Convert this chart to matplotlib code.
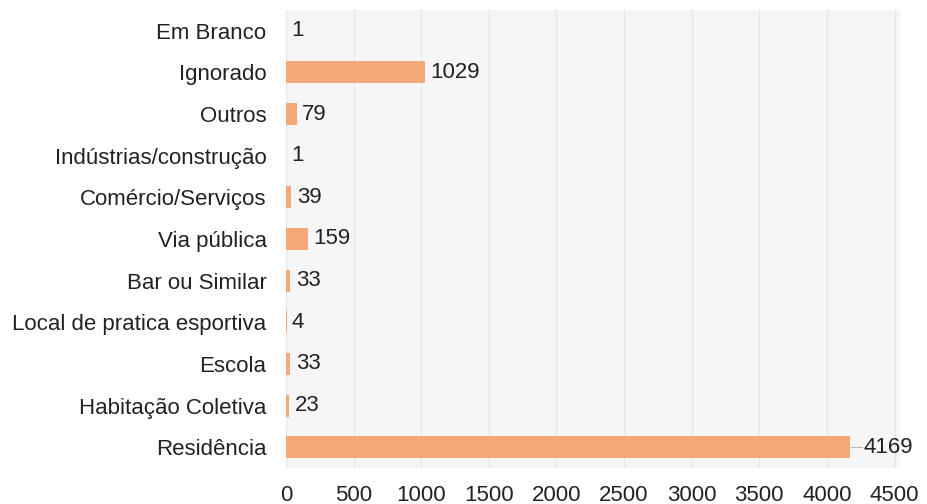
import numpy as np
import matplotlib.pyplot as plt

plt.rcParams['font.family'] = ['Liberation Sans', 'DejaVu Sans']

# dados
categorias = ['Em Branco', 'Ignorado', 'Outros', 'Indústrias/construção',
              'Comércio/Serviços', 'Via pública', 'Bar ou Similar',
              'Local de pratica esportiva', 'Escola', 'Habitação Coletiva',
              'Residência']
valores = [1, 1029, 79, 1, 39, 159, 33, 4, 33, 23, 4169]
xticks = [0, 500, 1000, 1500, 2000, 2500, 3000, 3500, 4000, 4500]

fs = 16

fig = plt.figure(figsize=(9.27, 5.04), dpi=100)
ax = fig.add_axes([286 / 927, 1 - 468 / 504, (900 - 286) / 927, (468 - 10) / 504])
ax.set_facecolor('#f6f6f6')

y = np.arange(len(categorias))
ax.barh(y, valores, height=0.53, color='#f5a878', zorder=3)

for yi, v in zip(y, valores):
    if v > 3000:
        ax.plot([v + 10, v + 90], [yi, yi], color='#bbbbbb', lw=0.8, zorder=3)
        ax.text(v + 100, yi, str(v), va='center', ha='left', fontsize=fs, color='#222222')
    else:
        ax.text(v + 40, yi, str(v), va='center', ha='left', fontsize=fs, color='#222222')

ax.set_ylim(len(categorias) - 0.5, -0.5)
ax.set_xlim(0, 4540)
ax.set_yticks(y)
ax.set_yticklabels(categorias, fontsize=fs, color='#222222')
ax.set_xticks(xticks)
ax.set_xticklabels([str(t) for t in xticks], fontsize=fs, color='#222222')
ax.tick_params(length=0)
ax.tick_params(axis='y', pad=14)
ax.tick_params(axis='x', pad=12)
ax.grid(axis='x', color='#e6e6e6', lw=0.9, zorder=0)
for s in ax.spines.values():
    s.set_visible(False)

fig.savefig('out.png', dpi=100)
